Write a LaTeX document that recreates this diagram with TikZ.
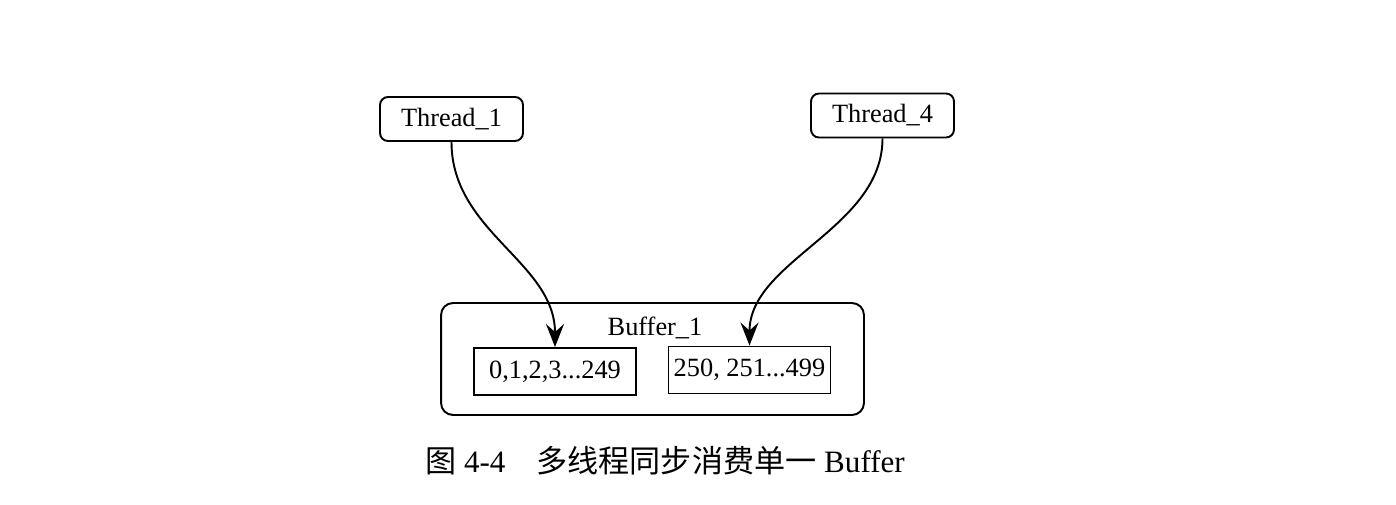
\documentclass[tikz,border=0pt]{standalone}
\usepackage{fontspec}
\setmainfont{Liberation Serif}
\newfontfamily\cjk{Noto Sans CJK SC}
\usetikzlibrary{arrows.meta}
\usetikzlibrary{positioning}

\begin{document}
\begin{tikzpicture}[x=0.02cm,y=-0.02cm,
    every node/.style={font=\fontsize{15}{18}\selectfont},
    threadbox/.style={draw,line width=1.1pt,rounded corners=0.16cm,minimum width=2.86cm,minimum height=0.88cm,inner sep=0pt},
    partbox/.style={draw,line width=1.1pt,minimum width=3.24cm,minimum height=0.94cm,inner sep=0pt},
    flow/.style={line width=1.1pt,-{Stealth[length=4.6mm,width=3.6mm,inset=1.6mm]}}]
                \useasboundingbox (0,0) rectangle (1396,504);

                \node[threadbox] (t1) at (451.5,119) {Thread\_1};
                \node[threadbox] (t4) at (882.5,115.5) {Thread\_4};

                \node[draw,line width=1.1pt,rounded corners=0.24cm,minimum width=8.46cm,minimum height=2.24cm] (buf) at (652.5,359) {};
                \node (bufname) at (655,328) {Buffer\_1};
                \node[partbox] (p1) at (555,371.5) {0,1,2,3...249};
                \node[partbox] (p2) at (749.5,370) {250, 251...499};

                \draw[flow] (t1.south) .. controls +(0,90) and +(0,-85) .. (p1.north);
                \draw[flow] (t4.south) .. controls +(0,90) and +(0,-85) .. (p2.north);

                \node[font=\fontsize{17.7}{21}\selectfont] (cap) at (665,461) {{\cjk 图} 4-4\quad{\cjk 多线程同步消费单一} Buffer};
            \end{tikzpicture}
\end{document}
